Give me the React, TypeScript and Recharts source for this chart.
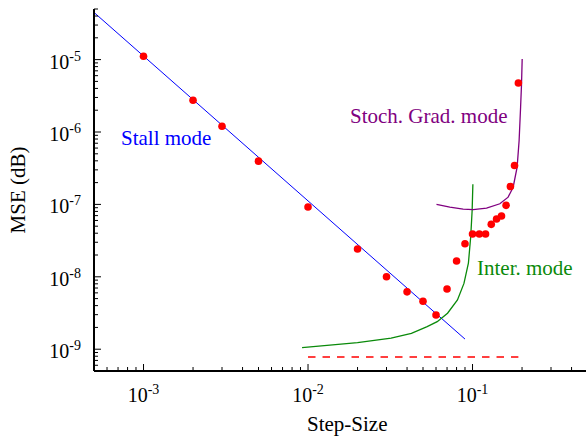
import { ComposedChart, Line, Scatter, XAxis, YAxis } from "recharts"

// measured points
const stepSize = [0.001, 0.002, 0.003, 0.005, 0.01, 0.02, 0.03, 0.04, 0.05, 0.06, 0.07, 0.08, 0.09, 0.1, 0.11, 0.12, 0.13, 0.14, 0.15, 0.16, 0.17, 0.18, 0.19]
const mseMeasured = [1.11e-5, 2.75e-6, 1.2e-6, 3.96e-7, 9.2e-8, 2.42e-8, 1.0e-8, 6.2e-9, 4.6e-9, 2.97e-9, 6.8e-9, 1.65e-8, 2.86e-8, 3.9e-8, 3.9e-8, 3.9e-8, 5.3e-8, 6.3e-8, 6.9e-8, 9.7e-8, 1.77e-7, 3.45e-7, 4.75e-6]

// theory curves
const stallX = [5e-4, 0.09]
const stallY = [4.48e-5, 1.38e-9]
const interX = [0.0092, 0.02, 0.032, 0.0425, 0.053, 0.061, 0.0705, 0.081, 0.0887, 0.0944, 0.0975, 0.0995, 0.1005]
const interY = [1.05e-9, 1.23e-9, 1.42e-9, 1.66e-9, 2.05e-9, 2.4e-9, 3.14e-9, 4.79e-9, 8.1e-9, 1.54e-8, 3.57e-8, 8.35e-8, 1.9e-7]
const stochX = [0.0604, 0.0728, 0.0877, 0.1009, 0.1217, 0.1466, 0.1646, 0.1766, 0.1867, 0.192, 0.196, 0.1986, 0.2004]
const stochY = [1e-7, 9.18e-8, 8.6e-8, 8.45e-8, 8.9e-8, 1.02e-7, 1.26e-7, 1.73e-7, 3.27e-7, 7.63e-7, 2.2e-6, 4.62e-6, 1.02e-5]
const floorX = [0.01, 0.19]
const floorY = [7.8e-10, 7.8e-10]

const xDomain = [5e-4, 0.5]
const yDomain = [5e-10, 5e-5]
const xDecades = [-4, -3, -2, -1]
const yDecades = [-10, -9, -8, -7, -6, -5]
const multipliers = [1, 2, 3, 4, 5, 6, 7, 8, 9]

const zip = (xs: number[], ys: number[]) => xs.map((x, i) => ({ x, y: ys[i] }))

const logTicks = (decades: number[], domain: number[]) =>
    decades
        .flatMap((e) => multipliers.map((m) => ({ v: Number(`${m}e${e}`), major: m === 1 })))
        .filter((t) => t.v >= domain[0] && t.v <= domain[1])

const xTicks = logTicks(xDecades, xDomain)
const yTicks = logTicks(yDecades, yDomain)
const majorSet = new Set([...xTicks, ...yTicks].filter((t) => t.major).map((t) => t.v))

const FONT = "'Liberation Serif', 'Times New Roman', serif"

function Power({ v, ...rest }: any) {
    const e = Math.round(Math.log10(v))
    return (
        <text fontFamily={FONT} fill="#000" {...rest}>
            <tspan fontSize={20}>10</tspan>
            <tspan fontSize={14} dy={-8}>{e}</tspan>
        </text>
    )
}

function makeTick(side: "bottom" | "top" | "left" | "right") {
    return (props: any) => {
        const { x, y, payload } = props
        const v = payload.value
        const major = majorSet.has(v)
        const len = major ? 7 : 4
        let line
        if (side === "bottom") line = <line x1={x} x2={x} y1={y} y2={y - len} />
        else if (side === "top") line = <line x1={x} x2={x} y1={y} y2={y + len} />
        else if (side === "left") line = <line x1={x} x2={x + len} y1={y} y2={y} />
        else line = <line x1={x} x2={x - len} y1={y} y2={y} />
        return (
            <g stroke="#000" strokeWidth={1}>
                {line}
                {major && side === "bottom" && <Power v={v} x={x} y={y + 31} textAnchor="middle" stroke="none" />}
                {major && side === "left" && <Power v={v} x={x - 13} y={y + 9} textAnchor="end" stroke="none" />}
            </g>
        )
    }
}

const axisLine = { stroke: "#000", strokeWidth: 2 }

export default function App() {
    const dots = zip(stepSize, mseMeasured)
    return (
        <div style={{ position: "absolute", left: 0, top: 0, width: 586, height: 441, overflow: "hidden", background: "#fff" }}>
            <ComposedChart width={590} height={441} margin={{ top: 9, right: 2.5, bottom: 0, left: 0 }}>
                <XAxis
                    xAxisId={0}
                    dataKey="x"
                    type="number"
                    scale="log"
                    domain={xDomain}
                    allowDataOverflow
                    ticks={xTicks.map((t) => t.v)}
                    interval={0}
                    height={70}
                    tickSize={0}
                    tickMargin={0}
                    tickLine={false}
                    axisLine={axisLine}
                    tick={makeTick("bottom")}
                />
                <XAxis
                    xAxisId="top"
                    orientation="top"
                    dataKey="x"
                    type="number"
                    scale="log"
                    domain={xDomain}
                    allowDataOverflow
                    ticks={xTicks.map((t) => t.v)}
                    interval={0}
                    height={0}
                    tickSize={0}
                    tickMargin={0}
                    tickLine={false}
                    axisLine={axisLine}
                    tick={makeTick("top")}
                />
                <YAxis
                    yAxisId={0}
                    dataKey="y"
                    type="number"
                    scale="log"
                    domain={yDomain}
                    allowDataOverflow
                    ticks={yTicks.map((t) => t.v)}
                    interval={0}
                    width={94}
                    tickSize={0}
                    tickMargin={0}
                    tickLine={false}
                    axisLine={axisLine}
                    tick={makeTick("left")}
                />
                <YAxis
                    yAxisId="right"
                    orientation="right"
                    dataKey="y"
                    type="number"
                    scale="log"
                    domain={yDomain}
                    allowDataOverflow
                    ticks={yTicks.map((t) => t.v)}
                    interval={0}
                    width={0}
                    tickSize={0}
                    tickMargin={0}
                    tickLine={false}
                    axisLine={{ stroke: "#999", strokeWidth: 1 }}
                    tick={makeTick("right")}
                />
                <Line data={zip(floorX, floorY)} dataKey="y" stroke="#ff0000" strokeWidth={1.5} strokeDasharray="7.5 7" dot={false} isAnimationActive={false} />
                <Line data={zip(stallX, stallY)} dataKey="y" stroke="#0000ff" strokeWidth={1} dot={false} isAnimationActive={false} />
                <Line data={zip(interX, interY)} dataKey="y" stroke="#0a8a0a" strokeWidth={1.3} dot={false} isAnimationActive={false} />
                <Line data={zip(stochX, stochY)} dataKey="y" stroke="#800080" strokeWidth={1.3} dot={false} isAnimationActive={false} />
                <Scatter
                    data={dots}
                    isAnimationActive={false}
                    shape={(p: any) => <circle cx={p.cx} cy={p.cy} r={3.8} fill="#ff0000" />}
                />
            </ComposedChart>
            <svg width={586} height={441} style={{ position: "absolute", left: 0, top: 0, pointerEvents: "none" }}>
                <g fontFamily={FONT} fontSize={21}>
                    <text x={121} y={145} fill="#0000ff">Stall mode</text>
                    <text x={350} y={123} fill="#800080">Stoch. Grad. mode</text>
                    <text x={477} y={275} fill="#0a8a0a">Inter. mode</text>
                    <text x={307} y={431} fill="#000">Step-Size</text>
                    <text x={25} y={190} fill="#000" textAnchor="middle" transform="rotate(-90 25 190)">MSE (dB)</text>
                </g>
            </svg>
        </div>
    )
}
